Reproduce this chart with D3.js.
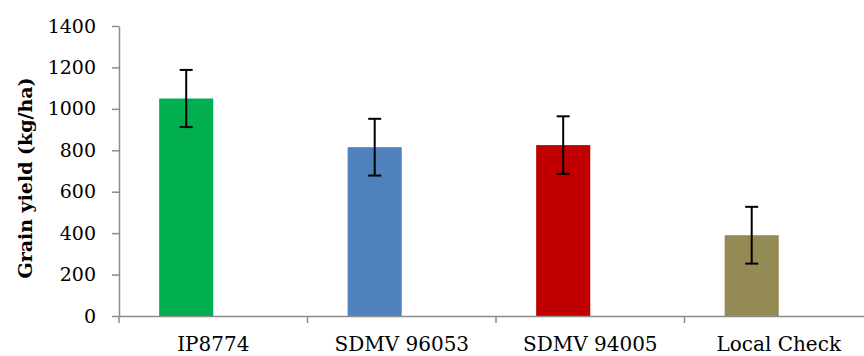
<!DOCTYPE html>
<html>
<head>
<meta charset="utf-8">
<script src="https://cdn.jsdelivr.net/npm/d3@7/dist/d3.min.js"></script>
<style>
  html, body { margin: 0; padding: 0; background: #fff; }
  svg { display: block; }
</style>
</head>
<body>
<svg id="chart" width="864" height="356"></svg>
<script>
const categories = ["IP8774", "SDMV 96053", "SDMV 94005", "Local Check"];
const yieldValues = [1050, 815, 825, 390];
const errorValues = [138, 137, 139, 137];
const barColors = ["#00B050", "#4F81BD", "#C00000", "#948A54"];
const yTicks = [0, 200, 400, 600, 800, 1000, 1200, 1400];
const yTitle = "Grain yield (kg/ha)";

const svg = d3.select("#chart");
const axisColor = "#8c8c8c";

const y = d3.scaleLinear().domain([0, 1400]).range([316, 26]);
const x = d3.scaleBand().domain(categories).range([119, 873]).paddingInner(0).paddingOuter(0);
const bw = x.bandwidth();
const barW = bw * 0.287;

// bars
svg.append("g").selectAll("rect")
  .data(categories)
  .join("rect")
  .attr("x", (d) => x(d) + bw / 2 - barW)
  .attr("width", barW)
  .attr("y", (d, i) => y(yieldValues[i]))
  .attr("height", (d, i) => y(0) - y(yieldValues[i]))
  .attr("fill", (d, i) => barColors[i]);

// y axis
const yAxis = svg.append("g")
  .attr("transform", `translate(${x.range()[0]},0)`)
  .call(d3.axisLeft(y).tickValues(yTicks).tickFormat(d3.format("d")).tickSize(7).tickPadding(16).tickSizeOuter(0));
yAxis.select(".domain").attr("stroke", axisColor).attr("stroke-width", 1.5);
yAxis.selectAll(".tick line").attr("stroke", axisColor).attr("stroke-width", 1.5);
yAxis.selectAll(".tick text")
  .attr("fill", "#000")
  .style("font-family", "'DejaVu Serif', serif")
  .style("font-size", "19px");

// x axis
const xAxis = svg.append("g")
  .attr("transform", `translate(0,${y(0)})`)
  .call(d3.axisBottom(x).tickSize(0).tickPadding(0).tickSizeOuter(0));
xAxis.select(".domain").attr("stroke", axisColor).attr("stroke-width", 1.5);
xAxis.selectAll(".tick text")
  .attr("fill", "#000")
  .attr("y", 35)
  .attr("dy", 0)
  .style("font-family", "'DejaVu Serif', serif")
  .style("font-size", "20px");
// category boundary ticks
const boundaries = categories.map((c) => x(c)).concat([x.range()[1]]);
xAxis.append("g").selectAll("line")
  .data(boundaries)
  .join("line")
  .attr("x1", (d) => d).attr("x2", (d) => d)
  .attr("y1", 0).attr("y2", 7)
  .attr("stroke", axisColor).attr("stroke-width", 1.5);

// error bars
const capW = 13;
const eb = svg.append("g").attr("stroke", "#000").attr("stroke-width", 2);
categories.forEach((c, i) => {
  const cx = x(c) + bw / 2 - barW / 2;
  const top = y(yieldValues[i] + errorValues[i]);
  const bot = y(yieldValues[i] - errorValues[i]);
  eb.append("line").attr("x1", cx).attr("x2", cx).attr("y1", top).attr("y2", bot);
  eb.append("line").attr("x1", cx - capW / 2).attr("x2", cx + capW / 2).attr("y1", top).attr("y2", top);
  eb.append("line").attr("x1", cx - capW / 2).attr("x2", cx + capW / 2).attr("y1", bot).attr("y2", bot);
});

// y title
svg.append("text")
  .attr("transform", `translate(25,178) rotate(-90)`)
  .attr("text-anchor", "middle")
  .attr("dominant-baseline", "central")
  .style("font-family", "'DejaVu Serif', serif")
  .style("font-weight", "bold")
  .style("font-size", "19px")
  .text(yTitle);
</script>
</body>
</html>
